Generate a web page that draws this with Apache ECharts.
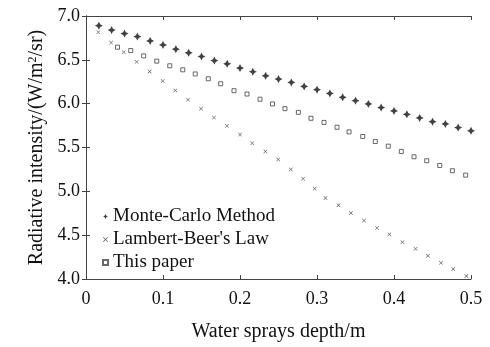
<!DOCTYPE html>
<html>
<head>
<meta charset="utf-8">
<script src="https://cdn.jsdelivr.net/npm/echarts@6/dist/echarts.min.js"></script>
<style>
  html, body { margin: 0; padding: 0; background: #fff; }
  #chart { width: 490px; height: 347px; }
</style>
</head>
<body>
<div id="chart"></div>
<script>
// Monte-Carlo Method
const mcX = [0.0167, 0.0333, 0.05, 0.0667, 0.0833, 0.1, 0.1167, 0.1333, 0.15, 0.1667,
  0.1833, 0.2, 0.2167, 0.2333, 0.25, 0.2667, 0.2833, 0.3, 0.3167, 0.3333,
  0.35, 0.3667, 0.3833, 0.4, 0.4167, 0.4333, 0.45, 0.4667, 0.4833, 0.5];
const mcY = [6.89, 6.84, 6.80, 6.765, 6.716, 6.67, 6.621, 6.58, 6.538, 6.492,
  6.455, 6.406, 6.364, 6.318, 6.281, 6.242, 6.197, 6.159, 6.117, 6.072,
  6.034, 5.997, 5.955, 5.917, 5.878, 5.837, 5.795, 5.769, 5.727, 5.69];

// Lambert-Beer's Law
const lbX = [0.016, 0.0325, 0.049, 0.0658, 0.0827, 0.0996, 0.116, 0.1325, 0.1494, 0.1662,
  0.1831, 0.2, 0.216, 0.233, 0.2497, 0.266, 0.282, 0.297, 0.311, 0.328,
  0.344, 0.361, 0.378, 0.394, 0.411, 0.428, 0.444, 0.461, 0.477, 0.494];
const lbY = [6.815, 6.697, 6.587, 6.477, 6.367, 6.258, 6.151, 6.045, 5.943, 5.841,
  5.747, 5.648, 5.549, 5.455, 5.364, 5.25, 5.144, 5.031, 4.924, 4.841,
  4.753, 4.667, 4.583, 4.508, 4.42, 4.344, 4.265, 4.185, 4.114, 4.034];

// This paper
const tpX = [0.0409, 0.0581, 0.0749, 0.0919, 0.1088, 0.1257, 0.1419, 0.1588, 0.1749, 0.1922,
  0.2091, 0.226, 0.2422, 0.2584, 0.2758, 0.2922, 0.3091, 0.326, 0.3416, 0.3594,
  0.3757, 0.3926, 0.4095, 0.426, 0.4425, 0.4594, 0.4758, 0.4931];
const tpY = [6.644, 6.606, 6.545, 6.485, 6.432, 6.386, 6.339, 6.284, 6.227, 6.148,
  6.11, 6.051, 5.997, 5.943, 5.901, 5.833, 5.786, 5.731, 5.678, 5.625,
  5.568, 5.515, 5.455, 5.394, 5.349, 5.295, 5.235, 5.185];

const seriesNames = ['Monte-Carlo Method', "Lambert-Beer's Law", 'This paper'];

const font = '"Liberation Serif", "Times New Roman", serif';
const ink = '#111';

const pair = (xs, ys) => xs.map((x, i) => [x, ys[i]]);

// fat four-pointed star, small x-cross
const starPath = 'path://M0,-10 L3.4,-3.4 L10,0 L3.4,3.4 L0,10 L-3.4,3.4 L-10,0 L-3.4,-3.4 Z';
const crossPath = 'path://M-5,-4 L-4,-5 L0,-1 L4,-5 L5,-4 L1,0 L5,4 L4,5 L0,1 L-4,5 L-5,4 L-1,0 Z';

const frameAxis = {
  axisLine: { show: true, lineStyle: { color: '#444', width: 1 } },
  axisTick: { show: true, inside: true, length: 4, lineStyle: { color: '#444' } },
  splitLine: { show: false }
};

const chart = echarts.init(document.getElementById('chart'));
chart.setOption({
  animation: false,
  backgroundColor: '#fff',
  textStyle: { fontFamily: font, color: ink },
  grid: { left: 86, right: 19, top: 16, bottom: 67 },
  legend: {
    orient: 'vertical',
    left: 97,
    top: 202,
    itemGap: 4,
    itemWidth: 5,
    itemHeight: 5,
    textStyle: { fontFamily: font, fontSize: 19, color: ink },
    data: seriesNames
  },
  xAxis: [
    Object.assign({
      type: 'value', min: 0, max: 0.5, interval: 0.1,
      name: 'Water sprays depth/m', nameLocation: 'middle', nameGap: 43,
      nameTextStyle: { fontFamily: font, fontSize: 20, color: ink },
      axisLabel: { fontFamily: font, fontSize: 18, color: ink, margin: 11 }
    }, frameAxis),
    Object.assign({
      type: 'value', min: 0, max: 0.5, interval: 0.1, position: 'top',
      axisLabel: { show: false }
    }, frameAxis)
  ],
  yAxis: [
    Object.assign({
      type: 'value', min: 4, max: 7, interval: 0.5,
      name: '{t|Radiative intensity/(W/m}{s|2}{t|/sr)}', nameLocation: 'middle', nameGap: 38,
      nameTextStyle: {
        rich: {
          t: { fontFamily: font, fontSize: 20, color: ink },
          s: { fontFamily: font, fontSize: 12, color: ink, verticalAlign: 'top', padding: [0, 0, 8, 0] }
        }
      },
      axisLabel: { fontFamily: font, fontSize: 18, color: ink, margin: 6, formatter: v => v.toFixed(1) }
    }, frameAxis),
    Object.assign({
      type: 'value', min: 4, max: 7, interval: 0.5, position: 'right',
      axisLabel: { show: false }
    }, frameAxis)
  ],
  series: [
    {
      name: seriesNames[0], type: 'scatter', symbol: starPath, symbolSize: 8,
      itemStyle: { color: '#111' }, data: pair(mcX, mcY)
    },
    {
      name: seriesNames[1], type: 'scatter', symbol: crossPath, symbolSize: 4,
      itemStyle: { color: '#333' }, data: pair(lbX, lbY)
    },
    {
      name: seriesNames[2], type: 'scatter', symbol: 'rect', symbolSize: 4,
      itemStyle: { color: '#fff', borderColor: '#444', borderWidth: 1 }, data: pair(tpX, tpY)
    }
  ]
});
</script>
</body>
</html>
